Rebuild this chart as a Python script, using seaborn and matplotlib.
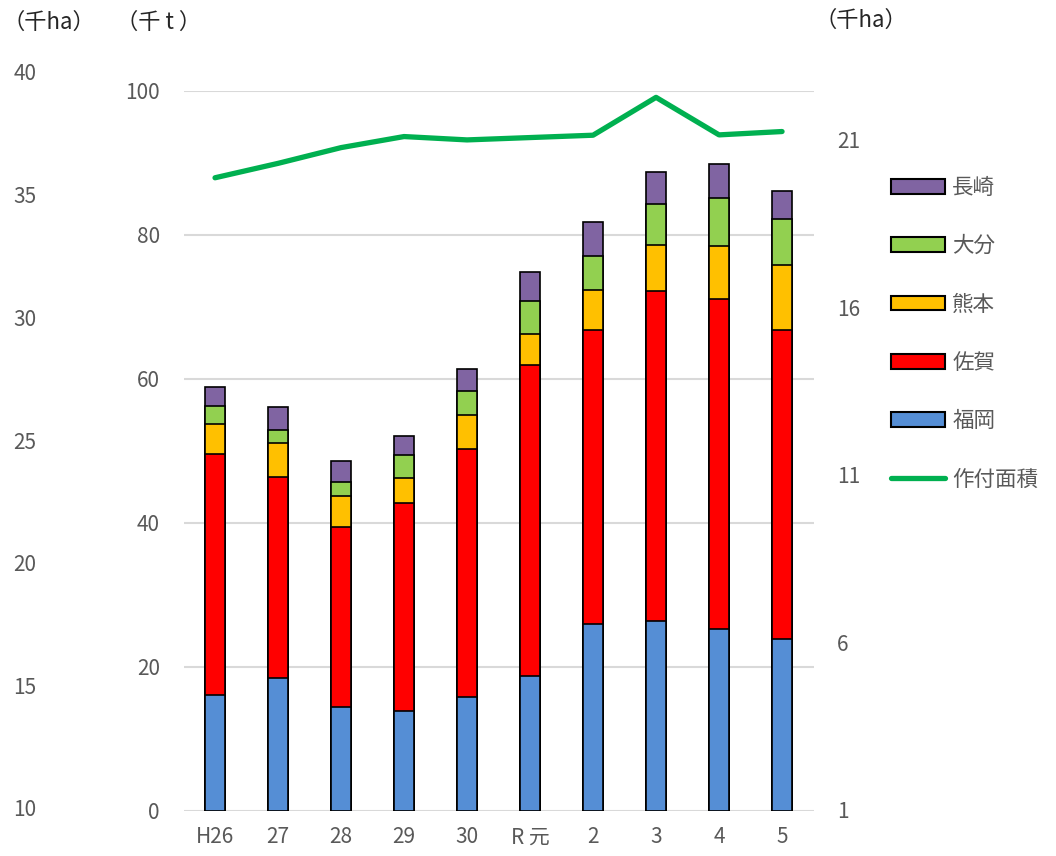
import matplotlib.pyplot as plt
import numpy as np
import seaborn as sns
from matplotlib.patches import Patch
from matplotlib.lines import Line2D

# years (H26 .. R5)
years = ["H26", "27", "28", "29", "30", "R 元", "2", "3", "4", "5"]

# production by prefecture (thousand t)
fukuoka = [16.1, 18.5, 14.5, 13.9, 15.8, 18.8, 26.0, 26.4, 25.3, 23.9]
saga = [33.5, 27.9, 24.9, 28.9, 34.5, 43.2, 40.8, 45.8, 45.8, 42.9]
kumamoto = [4.15, 4.7, 4.35, 3.5, 4.7, 4.3, 5.5, 6.45, 7.4, 9.05]
oita = [2.5, 1.8, 1.95, 3.1, 3.3, 4.5, 4.8, 5.6, 6.7, 6.4]
nagasaki = [2.65, 3.2, 2.9, 2.7, 3.1, 4.0, 4.7, 4.55, 4.6, 3.85]

# planted area (thousand ha)
area = [19.87, 20.3, 20.77, 21.1, 21.0, 21.07, 21.14, 22.27, 21.15, 21.25]

left_ticks = [0, 20, 40, 60, 80, 100]
right_ticks = [1, 6, 11, 16, 21]
far_left_ticks = [10, 15, 20, 25, 30, 35, 40]

names = ["福岡", "佐賀", "熊本", "大分", "長崎"]
colors = ["#558ED5", "#FF0000", "#FFC000", "#92D050", "#8064A2"]
line_color = "#00B050"
gray = "#595959"

sns.set_style("white")
plt.rcParams['font.family'] = ['Noto Sans CJK JP', 'DejaVu Sans']

fig = plt.figure(figsize=(10.56, 8.56), dpi=100)
ax = fig.add_axes([0.1738, 0.0526, 0.5966, 0.8411])

# stacked bars: draw cumulative totals from the top layer down
layers = [fukuoka, saga, kumamoto, oita, nagasaki]
cum = np.cumsum(np.array(layers), axis=0)
for i in range(len(layers) - 1, -1, -1):
    sns.barplot(x=years, y=cum[i], color=colors[i], width=0.31,
                edgecolor="black", linewidth=1.2, saturation=1, ax=ax)

ax.set_ylim(0, 100)
ax.set_yticks(left_ticks)
ax.set_xlim(-0.5, len(years) - 0.5)
ax.yaxis.grid(True, color="#D9D9D9", linewidth=1.5)
ax.set_axisbelow(True)
for s in ax.spines.values():
    s.set_visible(False)
ax.tick_params(axis="y", length=0, pad=17, labelsize=15, labelcolor=gray)
ax.tick_params(axis="x", length=0, pad=11, labelsize=15, labelcolor=gray)
ax.set_xlabel("")
ax.set_ylabel("")

# planted area on right axis
ax2 = ax.twinx()
sns.lineplot(x=np.arange(len(years)), y=area, color=line_color,
             linewidth=3.8, ax=ax2)
ax2.set_ylim(0.97, 22.46)
ax2.set_yticks(right_ticks)
for s in ax2.spines.values():
    s.set_visible(False)
ax2.tick_params(axis="y", length=0, pad=17, labelsize=15, labelcolor=gray)
ax2.set_ylabel("")

# extra left axis (千ha)
ax3 = fig.add_axes([0.0426, 1 - 808 / 856, 0.0005, (808 - 72) / 856])
ax3.set_ylim(10, 40)
ax3.set_yticks(far_left_ticks)
ax3.set_xticks([])
for s in ax3.spines.values():
    s.set_visible(False)
ax3.patch.set_visible(False)
ax3.tick_params(axis="y", length=0, pad=6, labelsize=15, labelcolor=gray)

# unit labels
fig.text(3 / 1056, 1 - 22 / 856, "（千ha）", fontsize=16, va="center", ha="left")
fig.text(116 / 1056, 1 - 22 / 856, "（千 t ）", fontsize=16, va="center", ha="left")
fig.text(815 / 1056, 1 - 20 / 856, "（千ha）", fontsize=16, va="center", ha="left")

# legend
handles = [Patch(facecolor=colors[i], edgecolor="black", linewidth=1.5, label=names[i])
           for i in range(len(names) - 1, -1, -1)]
handles.append(Line2D([0], [0], color=line_color, linewidth=3.8, label="作付面積"))
leg = fig.legend(handles=handles, loc="upper left", bbox_to_anchor=(880 / 1056, 1 - 166 / 856),
                 frameon=False, fontsize=15.5, handlelength=2.5, handleheight=0.67,
                 handletextpad=0.35, labelspacing=1.69, borderpad=0)
for t in leg.get_texts():
    t.set_color(gray)

plt.savefig("out.png", dpi=100)
